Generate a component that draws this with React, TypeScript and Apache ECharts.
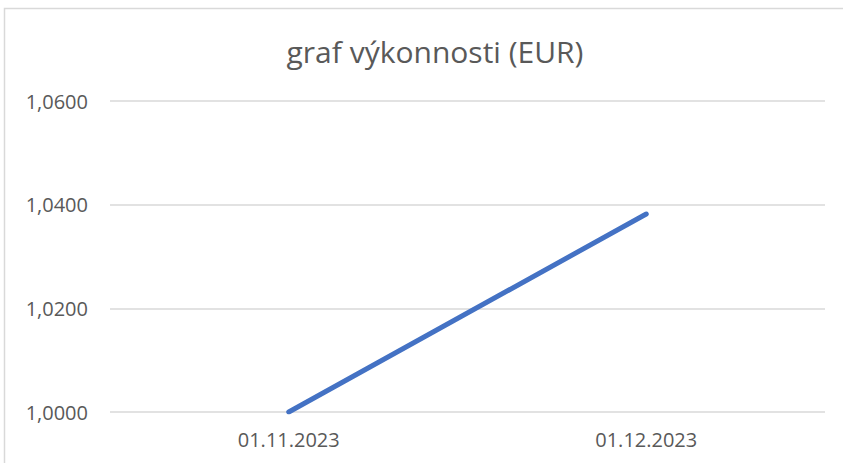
import React, { useEffect, useRef } from "react";
import * as echarts from "echarts";

const categories = ["01.11.2023", "01.12.2023"];
const values = [1.0, 1.0382];
const titleText = "graf výkonnosti (EUR)";

export default function App() {
  const ref = useRef<HTMLDivElement>(null);
  useEffect(() => {
    document.body.style.margin = "0";
    const chart = echarts.init(ref.current!, null, { renderer: "svg" });
    const font = "'Open Sans', sans-serif";
    chart.setOption({
      animation: false,
      backgroundColor: "#ffffff",
      title: {
        text: titleText,
        left: 430,
        textAlign: "center",
        top: 31,
        textStyle: { color: "#595959", fontSize: 30, fontWeight: "normal", fontFamily: font },
      },
      graphic: [
        {
          type: "rect",
          shape: { x: 4.5, y: 8.5, width: 860, height: 470 },
          style: { fill: "none", stroke: "#d9d9d9", lineWidth: 1.5 },
          silent: true,
        },
      ],
      grid: { left: 110, right: 18, top: 101, bottom: 51 },
      xAxis: {
        type: "category",
        data: categories,
        boundaryGap: true,
        axisLine: { show: false },
        axisTick: { show: false },
        axisLabel: { color: "#595959", fontSize: 20, fontFamily: font, margin: 17 },
      },
      yAxis: {
        type: "value",
        min: 1.0,
        max: 1.06,
        interval: 0.02,
        axisLine: { show: false },
        axisTick: { show: false },
        splitLine: { lineStyle: { color: "#d9d9d9", width: 1.5 } },
        axisLabel: {
          color: "#595959",
          fontSize: 20,
          fontFamily: font,
          margin: 22,
          formatter: (v: number) => v.toFixed(4).replace(".", ","),
        },
      },
      series: [
        {
          type: "line",
          data: values,
          symbol: "none",
          lineStyle: { color: "#4472C4", width: 5, cap: "round" },
        },
      ],
    });
    return () => chart.dispose();
  }, []);
  return <div ref={ref} style={{ width: 843, height: 463 }} />;
}
